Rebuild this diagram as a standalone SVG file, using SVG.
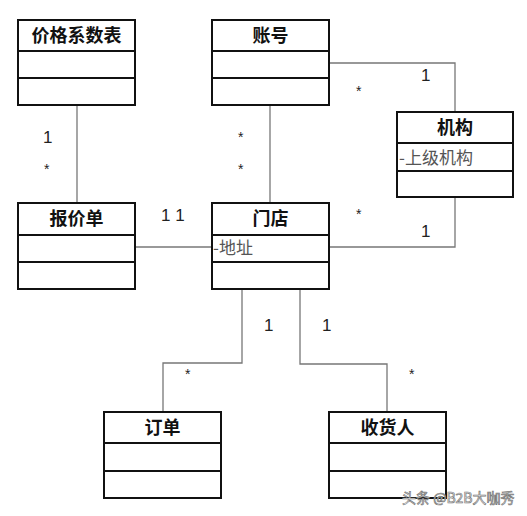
<svg xmlns="http://www.w3.org/2000/svg" width="527" height="516" viewBox="0 0 527 516">
<style>
.box{fill:#fff;stroke:#111;stroke-width:2}
.div{stroke:#111;stroke-width:2}
.t{font-family:"Noto Sans CJK SC","Liberation Sans",sans-serif;font-weight:bold;font-size:18px;fill:#111;text-anchor:middle}
.a{font-family:"Noto Sans CJK SC","Liberation Serif",serif;font-size:17px;fill:#555}
.c{fill:none;stroke:#777;stroke-width:1.3}
.m{font-family:"Liberation Sans","Noto Sans CJK SC",sans-serif;font-size:17px;fill:#222}
.s{font-family:"Liberation Sans",sans-serif;font-size:14px;fill:#222}
.w{font-family:"Noto Sans CJK SC","Liberation Sans",sans-serif;font-size:14px;fill:#fff;stroke:#777;stroke-width:0.7}
</style>
<rect width="527" height="516" fill="#fff"/>
<g id="connectors">
<path class="c" d="M77 105V203"/>
<path class="c" d="M270 105V203"/>
<path class="c" d="M329 63H455V112"/>
<path class="c" d="M455 197V247H329"/>
<path class="c" d="M135 247H212"/>
<path class="c" d="M242 289V363H163V412"/>
<path class="c" d="M300 289V364H387V412"/>
</g>
<g id="labels">
<text class="m" x="43" y="143">1</text>
<text class="s" x="44" y="174">*</text>
<text class="s" x="238" y="142">*</text>
<text class="s" x="238" y="174">*</text>
<text class="m" x="421" y="81">1</text>
<text class="s" x="356" y="96">*</text>
<text class="s" x="356" y="219">*</text>
<text class="m" x="421" y="237">1</text>
<text class="m" x="161" y="221">1 1</text>
<text class="m" x="264" y="331">1</text>
<text class="m" x="322" y="331">1</text>
<text class="s" x="185" y="379">*</text>
<text class="s" x="409" y="379">*</text>
</g>
<g id="jiage">
<rect class="box" x="18" y="20" width="117" height="85"/>
<path class="div" d="M18 51H135M18 78H135"/>
<text class="t" x="76.5" y="42">价格系数表</text>
</g>
<g id="zhanghao">
<rect class="box" x="212" y="20" width="117" height="85"/>
<path class="div" d="M212 51H329M212 78H329"/>
<text class="t" x="270.5" y="42">账号</text>
</g>
<g id="jigou">
<rect class="box" x="397" y="112" width="116" height="85"/>
<path class="div" d="M397 143H513M397 171H513"/>
<text class="t" x="455" y="134">机构</text>
<text class="a" x="399" y="164">-上级机构</text>
</g>
<g id="baojiadan">
<rect class="box" x="18" y="203" width="117" height="86"/>
<path class="div" d="M18 235H135M18 262H135"/>
<text class="t" x="76.5" y="225">报价单</text>
</g>
<g id="mendian">
<rect class="box" x="212" y="203" width="117" height="86"/>
<path class="div" d="M212 235H329M212 262H329"/>
<text class="t" x="270.5" y="225">门店</text>
<text class="a" x="213" y="254">-地址</text>
</g>
<g id="dingdan">
<rect class="box" x="104" y="412" width="117" height="86"/>
<path class="div" d="M104 443H221M104 471H221"/>
<text class="t" x="162.5" y="434">订单</text>
</g>
<g id="shouhuoren">
<rect class="box" x="329" y="412" width="117" height="86"/>
<path class="div" d="M329 443H446M329 471H446"/>
<text class="t" x="387.5" y="434">收货人</text>
</g>
<text class="w" x="402" y="503">头条 @B2B大咖秀</text>
</svg>
